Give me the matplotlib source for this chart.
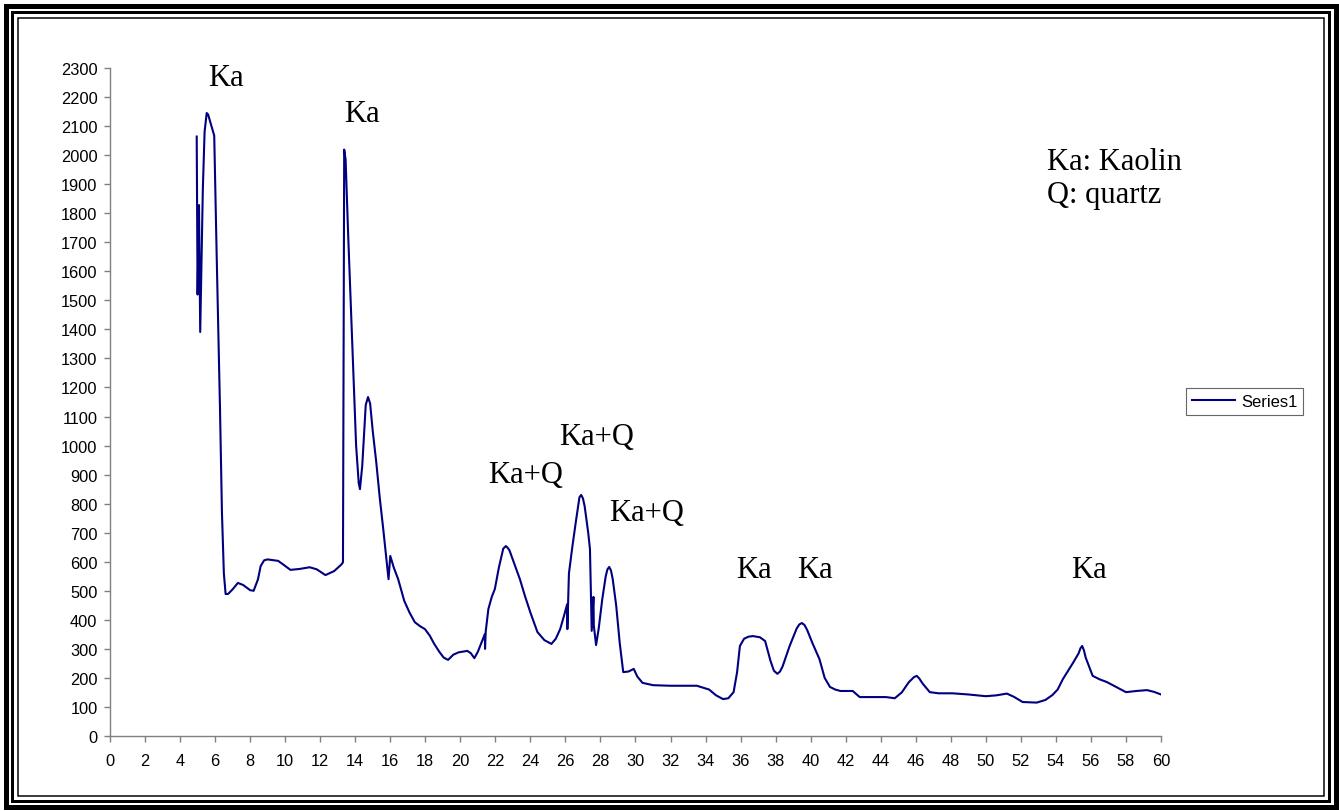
import matplotlib
matplotlib.use("Agg")
import matplotlib.pyplot as plt
from matplotlib.patches import Rectangle

# ---- data ----
two_theta = [4.95, 5.0, 5.08, 5.15, 5.3, 5.4, 5.52, 5.6, 5.7, 5.95, 6.09, 6.28, 6.39, 6.5,
             6.6, 6.74, 7.0, 7.3, 7.6, 8.0, 8.2, 8.45, 8.6, 8.8, 9.0, 9.6, 9.9, 10.3,
             10.8, 11.4, 11.8, 12.3, 12.8, 13.2, 13.3, 13.37, 13.45, 13.6, 13.75, 13.9,
             14.05, 14.2, 14.27, 14.4, 14.6, 14.73, 14.85, 15.0, 15.2, 15.4, 15.6, 15.9,
             16.0, 16.2, 16.45, 16.8, 17.1, 17.4, 17.7, 17.98, 18.26, 18.5, 18.8, 19.05,
             19.3, 19.6, 19.9, 20.4, 20.6, 20.8, 21.0, 21.2, 21.4, 21.41, 21.45, 21.6,
             21.8, 21.97, 22.2, 22.45, 22.6, 22.7, 22.8, 23.1, 23.4, 23.7, 24.0, 24.4,
             24.8, 25.2, 25.45, 25.7, 25.9, 26.1, 26.11, 26.2, 26.4, 26.6, 26.8, 26.9,
             27.0, 27.1, 27.3, 27.4, 27.5, 27.6, 27.62, 27.75, 27.9, 28.1, 28.3, 28.4,
             28.5, 28.6, 28.7, 28.9, 29.1, 29.3, 29.6, 29.9, 30.1, 30.4, 31.0, 32.0,
             33.5, 34.2, 34.6, 35.0, 35.3, 35.6, 35.8, 35.96, 36.2, 36.45, 36.7, 37.1,
             37.4, 37.7, 37.9, 38.1, 38.25, 38.4, 38.8, 39.2, 39.35, 39.5, 39.65, 39.8,
             40.1, 40.5, 40.8, 41.1, 41.4, 41.7, 42.4, 42.8, 44.3, 44.8, 45.2, 45.6,
             45.9, 46.06, 46.2, 46.4, 46.8, 47.3, 48.1, 49.0, 50.0, 50.6, 51.2, 51.6,
             52.1, 52.9, 53.4, 53.8, 54.1, 54.4, 54.7, 55.0, 55.3, 55.4, 55.5, 55.6,
             55.7, 56.1, 56.5, 56.9, 57.4, 58.0, 58.6, 59.2, 59.6, 60.0]
intensity = [2064, 1520, 1828, 1391, 1884, 2080, 2145, 2140, 2119, 2067, 1654, 1126, 771, 560,
             489, 489, 505, 527, 520, 502, 500, 540, 585, 605, 608, 603, 590, 572,
             575, 581, 574, 554, 568, 590, 598, 2019, 1985, 1720, 1480, 1230,
             1000, 870, 850, 930, 1140, 1167, 1145, 1050, 943, 820, 712, 540,
             620, 580, 540, 465, 425, 392, 378, 368, 345, 318, 290, 270,
             262, 280, 288, 293, 285, 268, 290, 320, 351, 300, 360, 437,
             480, 506, 580, 645, 654, 648, 640, 590, 540, 480, 425, 358,
             330, 317, 335, 368, 410, 454, 368, 560, 654, 740, 822, 830,
             818, 790, 700, 644, 362, 479, 380, 313, 370, 470, 550, 574,
             582, 570, 540, 448, 320, 220, 222, 231, 205, 183, 175, 173,
             173, 160, 140, 127, 130, 151, 220, 310, 335, 342, 344, 340,
             327, 260, 225, 214, 222, 240, 310, 370, 384, 389, 382, 365,
             320, 265, 200, 169, 160, 155, 155, 134, 134, 130, 150, 185,
             203, 207, 198, 180, 151, 147, 147, 143, 137, 140, 146, 135,
             117, 115, 124, 141, 160, 196, 225, 254, 285, 302, 310, 295,
             270, 207, 195, 186, 170, 151, 155, 158, 152, 143]

series_name = "Series1"
peak_labels = ["Ka", "Ka", "Ka+Q", "Ka+Q", "Ka+Q", "Ka", "Ka", "Ka"]
peak_label_x = [6.62, 14.4, 23.7, 27.8, 30.65, 36.76, 40.24, 55.9]
peak_label_y = [2269, 2142, 902, 1030, 771, 575, 575, 575]
key_lines = ["Ka: Kaolin", "Q: quartz"]
x_ticks = list(range(0, 61, 2))
y_ticks = list(range(0, 2301, 100))

# ---- figure ----
W, H = 1339, 812
fig = plt.figure(figsize=(W / 100, H / 100), dpi=100)
fig.patch.set_facecolor("white")

ax = fig.add_axes([110 / W, 1 - 737 / H, (1161 - 110) / W, (737 - 69) / H])
ax.plot(two_theta, intensity, color="#000080", lw=1.5, label=series_name,
        solid_joinstyle="round")
ax.set_xlim(0, 60)
ax.set_ylim(0, 2300)
ax.set_xticks(x_ticks)
ax.set_yticks(y_ticks)
for s in ["top", "right"]:
    ax.spines[s].set_visible(False)
for s in ["left", "bottom"]:
    ax.spines[s].set_color("#808080")
    ax.spines[s].set_linewidth(1.0)
ax.tick_params(axis="both", direction="out", length=4, width=1.0, color="#808080",
               labelsize=11.8, labelcolor="black")
ax.tick_params(axis="x", pad=8)
ax.tick_params(axis="y", pad=5)
for lab in ax.get_xticklabels() + ax.get_yticklabels():
    lab.set_fontfamily("Liberation Sans")

serif = "Liberation Serif"
for t, x, y in zip(peak_labels, peak_label_x, peak_label_y):
    ax.text(x, y, t, ha="center", va="center", fontsize=22, family=serif)
fig.text(1047 / W, 1 - 162 / H, key_lines[0], ha="left", va="center",
         fontsize=22, family=serif)
fig.text(1047 / W, 1 - 196 / H, key_lines[1], ha="left", va="center",
         fontsize=22, family=serif)

leg = fig.legend(loc="center left", bbox_to_anchor=(1186 / W, 1 - 402.5 / H),
                 frameon=True, fancybox=False, shadow=False, handlelength=2.6,
                 borderpad=0.35, handletextpad=0.35, borderaxespad=0,
                 prop={"family": "Liberation Sans", "size": 12})
leg.get_frame().set_edgecolor("#404040")
leg.get_frame().set_linewidth(0.8)

# ---- decorative triple border ----
def frame(x0, y0, x1, y1, lw_px):
    r = Rectangle((x0 / W, 1 - y1 / H), (x1 - x0) / W, (y1 - y0) / H,
                  transform=fig.transFigure, fill=False, edgecolor="black",
                  linewidth=lw_px * 0.72, joinstyle="miter")
    fig.add_artist(r)

frame(5.5, 6.5, 1335.5, 808, 5)
frame(12, 13, 1329, 802, 3)
frame(18, 19, 1324, 797, 1.5)

fig.savefig("out.png", dpi=100)
